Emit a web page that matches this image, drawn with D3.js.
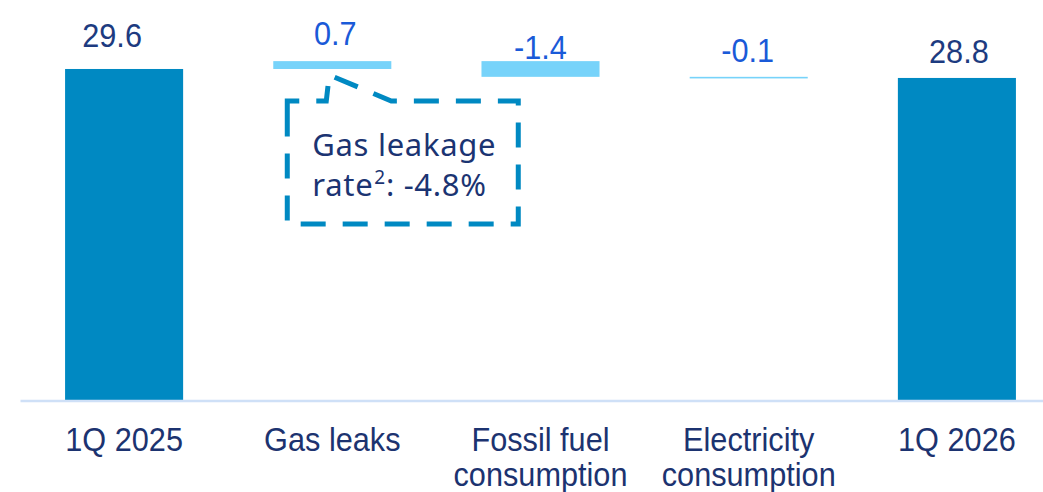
<!DOCTYPE html>
<html>
<head>
<meta charset="utf-8">
<script src="https://cdn.jsdelivr.net/npm/d3@7"></script>
<style>
  html, body { margin: 0; padding: 0; background: #ffffff; }
  svg { display: block; }
</style>
</head>
<body>
<svg id="chart" width="1043" height="492"></svg>
<script>
// ---- data ----
const categories = ["1Q 2025", "Gas leaks", "Fossil fuel\nconsumption", "Electricity\nconsumption", "1Q 2026"];
const values = [29.6, 0.7, -1.4, -0.1, 28.8];
const kinds = ["total", "delta", "delta", "delta", "total"];
const valueLabels = ["29.6", "0.7", "-1.4", "-0.1", "28.8"];
const calloutCategory = "Gas leaks";
const calloutLines = [["Gas leakage"], ["rate", "2", ": -4.8%"]];

// ---- layout tweaks for label placement (pixels, not data) ----
const labelNudgeX = [-12, 3, 0, -1, 2];
const labelNudgeY = [-7, -1, 13, 0, 0];

// ---- waterfall geometry from data ----
let running = 0;
const bars = values.map((v, i) => {
  let y0, y1;
  if (kinds[i] === "total") { y0 = 0; y1 = v; running = v; }
  else { y0 = running; y1 = running + v; running = y1; }
  return { cat: categories[i], kind: kinds[i], lo: Math.min(y0, y1), hi: Math.max(y0, y1), label: valueLabels[i], i };
});

const svg = d3.select("#chart");
const x = d3.scaleBand().domain(categories).range([20, 1061]).paddingInner(0.433).paddingOuter(0.2165);
const y = d3.scaleLinear().domain([0, 35.75]).range([401, 0]);

const darkBlue = "#0089c2";
const lightBlue = "#77d3fa";

// bars
svg.append("g").selectAll("rect").data(bars).join("rect")
  .attr("x", d => x(d.cat))
  .attr("width", x.bandwidth())
  .attr("y", d => y(d.hi))
  .attr("height", d => Math.max(1.6, y(d.lo) - y(d.hi)))
  .attr("fill", d => d.kind === "total" ? darkBlue : lightBlue);

// axis
const axis = svg.append("g")
  .attr("transform", "translate(0,400.5)")
  .call(d3.axisBottom(x).tickSize(0).tickPadding(0));
axis.select(".domain").attr("stroke", "#cfe0f7").attr("stroke-width", 2.5);
axis.selectAll(".tick text").each(function(d) {
  const t = d3.select(this);
  t.text(null)
    .attr("y", 0).attr("dy", null)
    .attr("fill", "#1c3370")
    .style("font-family", "'Liberation Sans', Arial, sans-serif")
    .style("font-size", "33px")
    .attr("transform", "scale(0.93,1)");
  d.split("\n").forEach((line, k) => {
    t.append("tspan").attr("x", 0).attr("y", 50.5 + k * 35.5).text(line);
  });
});

// value labels
svg.append("g").selectAll("text").data(bars).join("text")
  .attr("transform", d => `translate(${x(d.cat) + x.bandwidth() / 2 + labelNudgeX[d.i]},${y(d.hi) - 15 + labelNudgeY[d.i]}) scale(0.93,1)`)
  .attr("text-anchor", "middle")
  .style("font-family", "'Liberation Sans', Arial, sans-serif")
  .style("font-size", "33px")
  .attr("fill", d => d.kind === "total" ? "#1d3b80" : "#1a5ad8")
  .text(d => d.label);

// callout
const bx = x(calloutCategory);
const anchorBar = bars[categories.indexOf(calloutCategory)];
const apexY = y(anchorBar.lo) + 6;
const boxTop = apexY + 26, boxBottom = boxTop + 123;
const boxLeft = bx + 14, boxRight = bx + 245;
const path = d3.path();
path.moveTo(boxLeft, boxTop + 13);
path.lineTo(boxLeft, boxTop);
path.lineTo(bx + 53, boxTop);
path.lineTo(bx + 56, apexY);
path.lineTo(bx + 118, boxTop);
path.lineTo(boxRight, boxTop);
path.lineTo(boxRight, boxBottom);
path.lineTo(boxLeft, boxBottom);
path.closePath();
svg.append("path")
  .attr("d", path.toString())
  .attr("fill", "none")
  .attr("stroke", darkBlue)
  .attr("stroke-width", 5)
  .attr("stroke-dasharray", "25 17");

const ctext = svg.append("g").selectAll("text").data(calloutLines).join("text")
  .attr("x", bx + 39)
  .attr("y", (d, k) => boxTop + 55 + k * 40)
  .style("font-family", "'Noto Sans', sans-serif")
  .style("font-size", "31px")
  .style("letter-spacing", "0.7px")
  .attr("fill", "#1b3472");
ctext.each(function(parts) {
  const t = d3.select(this);
  parts.forEach((p, j) => {
    const ts = t.append("tspan").text(p);
    if (parts.length > 1 && j === 1) {
      ts.style("font-size", "19px").attr("dy", -12).attr("dx", 1);
    } else if (parts.length > 1 && j === 2) {
      ts.attr("dy", 12);
    }
  });
});
</script>
</body>
</html>
